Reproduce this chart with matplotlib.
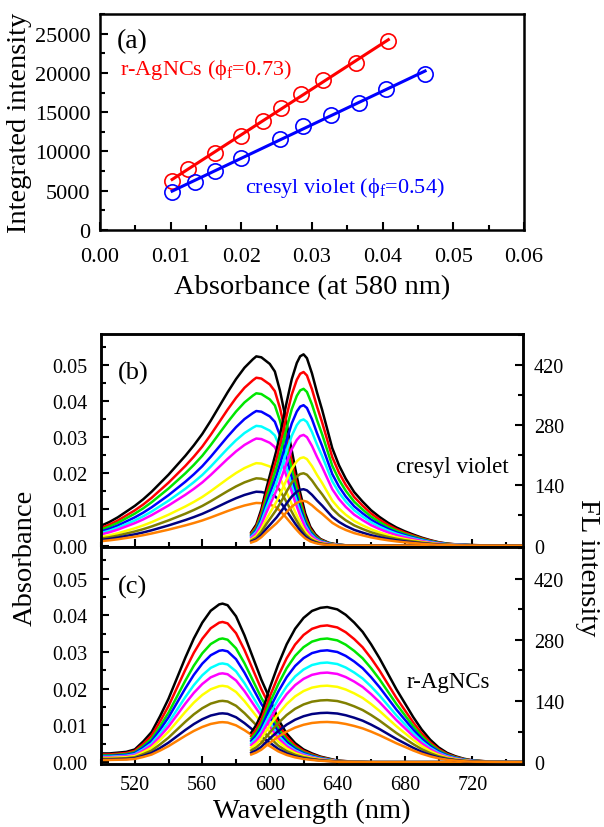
import numpy as np
import matplotlib.pyplot as plt
from matplotlib.ticker import MultipleLocator

plt.rcParams['font.family'] = ['Liberation Serif', 'DejaVu Serif']
plt.rcParams['mathtext.fontset'] = 'custom'
plt.rcParams['mathtext.rm'] = 'Liberation Serif'
plt.rcParams['mathtext.it'] = 'Liberation Serif'

# (a) integrated FL intensity vs absorbance
abs_ag = [0.0102, 0.0124, 0.0163, 0.0199, 0.0230, 0.0256, 0.0284, 0.0316, 0.0362, 0.0408]
int_ag = [6290, 7780, 9820, 12030, 13940, 15520, 17260, 19130, 21300, 24070]
abs_cv = [0.0102, 0.0134, 0.0162, 0.0199, 0.0255, 0.0287, 0.0327, 0.0366, 0.0405, 0.0460]
int_cv = [4810, 6080, 7560, 9150, 11600, 13180, 14670, 16200, 17980, 19900]

# spectra colours, from the most to the least concentrated sample
colors = ['black', '#ff0000', '#00e600', '#0000ff', '#00ffff',
          '#ff00ff', '#ffff00', '#808000', '#000080', '#ff8000']

# (b) cresyl violet: absorption profile (normalised) and peak absorbances
wl_cv_abs = [500, 505, 510, 515, 520, 525, 530, 535, 540, 545, 550, 555, 560, 565,
             570, 575, 580, 585, 590, 592, 595, 600, 603, 606, 609, 612, 615, 618,
             621, 624, 627, 630, 635, 640, 645, 650, 700, 750]
cv_abs_shape = [0.105, 0.125, 0.15, 0.18, 0.21, 0.245, 0.285, 0.33, 0.375, 0.425,
                0.475, 0.53, 0.59, 0.66, 0.735, 0.81, 0.88, 0.94, 0.985, 1.0, 0.995,
                0.96, 0.92, 0.82, 0.69, 0.55, 0.41, 0.28, 0.17, 0.10, 0.06, 0.035,
                0.015, 0.006, 0.002, 0.0, 0.0, 0.0]
cv_abs_peak = [0.0523, 0.0464, 0.0421, 0.0372, 0.0331, 0.0296, 0.0228, 0.0186, 0.0149, 0.0118]

# (b) cresyl violet: emission profile (normalised) and peak FL intensities
wl_cv_fl = [589, 592, 595, 598, 601, 604, 607, 610, 613, 616, 618, 620, 622, 625, 628,
            631, 634, 637, 641, 645, 650, 655, 660, 665, 670, 675, 680, 685, 690, 695,
            700, 705, 710, 720, 730, 740, 750]
cv_fl_shape = [0.07, 0.11, 0.19, 0.30, 0.40, 0.50, 0.62, 0.75, 0.87, 0.955, 0.99, 1.0,
               0.98, 0.90, 0.80, 0.71, 0.61, 0.51, 0.42, 0.35, 0.28, 0.23, 0.185, 0.15,
               0.12, 0.095, 0.075, 0.058, 0.042, 0.029, 0.018, 0.011, 0.007, 0.003,
               0.001, 0.0, 0.0]
cv_fl_peak = [444, 403, 364, 326, 293, 257, 205, 168, 131, 104]

# (c) r-AgNCs: absorption profile (normalised) and peak absorbances
wl_ag_abs = [500, 505, 510, 515, 520, 525, 530, 535, 540, 545, 550, 555, 560, 565, 570,
             572, 575, 580, 585, 590, 595, 600, 605, 610, 615, 620, 625, 630, 640, 650,
             660, 700, 750]
ag_abs_shape = [0.055, 0.055, 0.06, 0.065, 0.08, 0.13, 0.19, 0.29, 0.40, 0.53, 0.66,
                0.78, 0.88, 0.955, 0.995, 1.0, 0.99, 0.92, 0.80, 0.66, 0.52, 0.40,
                0.27, 0.18, 0.12, 0.08, 0.055, 0.035, 0.01, 0.003, 0.0, 0.0, 0.0]
ag_abs_peak = [0.0432, 0.0382, 0.0337, 0.0305, 0.0269, 0.0242, 0.0208, 0.0167, 0.0133, 0.0109]

# (c) r-AgNCs: emission profile (normalised) and peak FL intensities
wl_ag_fl = [589, 592, 595, 600, 605, 610, 615, 620, 625, 630, 634, 640, 645, 650, 655,
            660, 665, 670, 675, 680, 685, 690, 695, 700, 705, 710, 715, 720, 730, 740, 750]
ag_fl_shape = [0.19, 0.24, 0.31, 0.48, 0.63, 0.76, 0.86, 0.93, 0.975, 0.995, 1.0,
               0.985, 0.95, 0.90, 0.84, 0.76, 0.67, 0.57, 0.47, 0.38, 0.29, 0.21,
               0.145, 0.095, 0.06, 0.038, 0.022, 0.012, 0.004, 0.0, 0.0]
ag_fl_peak = [355, 313, 283, 256, 228, 205, 175, 142, 113, 92]

fig = plt.figure(figsize=(6.04, 8.28), dpi=100)


def style_ticks(ax, size, pad, right=False):
    ax.tick_params(which='both', direction='in', width=1.5, labelsize=size,
                   top=False, right=right, left=not right)
    ax.tick_params(axis='y', which='both', pad=pad)
    ax.tick_params(which='major', length=6)
    ax.tick_params(which='minor', length=3.5)
    for s in ax.spines.values():
        s.set_linewidth(1.8)


# ---- panel (a) ----
ax1 = fig.add_axes([0.1656, 0.7210, 0.7020, 0.2609])
for x, y, c in [(abs_ag, int_ag, 'red'), (abs_cv, int_cv, 'blue')]:
    k, b = np.polyfit(x, y, 1)
    xf = np.array([x[0], x[-1]])
    ax1.plot(x, y, 'o', mfc='none', mec=c, ms=11, mew=1.2)
    ax1.plot(xf, k * xf + b, color=c, lw=2.2)
ax1.set_xlim(0, 0.06)
ax1.set_ylim(0, 27500)
ax1.xaxis.set_major_locator(MultipleLocator(0.01))
ax1.xaxis.set_minor_locator(MultipleLocator(0.005))
ax1.yaxis.set_major_locator(MultipleLocator(5000))
ax1.yaxis.set_minor_locator(MultipleLocator(2500))
ax1.xaxis.set_major_formatter(lambda v, p: '%.2f' % v)
style_ticks(ax1, 16, 7)
ax1.tick_params(axis='x', pad=12)
ax1.set_xlabel('Absorbance (at 580 nm)', fontsize=20.5, labelpad=6)
ax1.set_ylabel('Integrated intensity', fontsize=20.5, labelpad=2)
ax1.text(0.04, 0.875, '(a)', transform=ax1.transAxes, fontsize=20, va='center')
ax1.text(0.047, 0.745, r'r-AgNCs ($\phi_{\rm f}$=0.73)', transform=ax1.transAxes,
         color='red', fontsize=16, va='center')
ax1.text(0.342, 0.20, r'cresyl violet ($\phi_{\rm f}$=0.54)', transform=ax1.transAxes,
         color='blue', fontsize=16, va='center')

# ---- panels (b) and (c) ----
ylim_abs = (-0.0005, 0.0585)
fl_per_abs = 420 / 0.05
panels = [
    ([0.1672, 0.3376, 0.6987, 0.2579], wl_cv_abs, cv_abs_shape, cv_abs_peak,
     wl_cv_fl, cv_fl_shape, cv_fl_peak, '(b)', 'cresyl violet', 0.965),
    ([0.1672, 0.0761, 0.6987, 0.2615], wl_ag_abs, ag_abs_shape, ag_abs_peak,
     wl_ag_fl, ag_fl_shape, ag_fl_peak, '(c)', 'r-AgNCs', 0.923),
]
axes = []
for rect, wa, sa, pa, wf, sf, pf, tag, name, name_x in panels:
    ax = fig.add_axes(rect)
    axr = ax.twinx()
    for peak, c in zip(pa, colors):
        ax.plot(wa, np.array(sa) * peak, color=c, lw=1.8)
    for peak, c in zip(pf, colors):
        axr.plot(wf, np.array(sf) * peak, color=c, lw=1.8)
    ax.set_xlim(500, 750)
    ax.set_ylim(*ylim_abs)
    axr.set_ylim(ylim_abs[0] * fl_per_abs, ylim_abs[1] * fl_per_abs)
    ax.xaxis.set_major_locator(MultipleLocator(40))
    ax.xaxis.set_minor_locator(MultipleLocator(20))
    ax.yaxis.set_major_locator(MultipleLocator(0.01))
    ax.yaxis.set_minor_locator(MultipleLocator(0.005))
    ax.yaxis.set_major_formatter(lambda v, p: '%.2f' % v)
    axr.yaxis.set_major_locator(MultipleLocator(140))
    axr.yaxis.set_minor_locator(MultipleLocator(70))
    style_ticks(ax, 14.5, 10)
    style_ticks(axr, 14.5, 8, right=True)
    ax.tick_params(axis='x', pad=8)
    ax.set_xticks([520, 560, 600, 640, 680, 720])
    ax.text(0.04, 0.82, tag, transform=ax.transAxes, fontsize=19, va='center')
    ax.text(name_x, 0.38, name, transform=ax.transAxes, fontsize=16.5,
            ha='right', va='center')
    axes.append(ax)

axes[0].tick_params(labelbottom=False)
axes[1].set_xlabel('Wavelength (nm)', fontsize=20.5, labelpad=3)
fig.text(0.042, 0.326, 'Absorbance', rotation=90, fontsize=20.5, ha='center', va='center')
fig.text(0.973, 0.314, 'FL intensity', rotation=270, fontsize=20.5, ha='center', va='center')

fig.savefig('out.png', dpi=100)
